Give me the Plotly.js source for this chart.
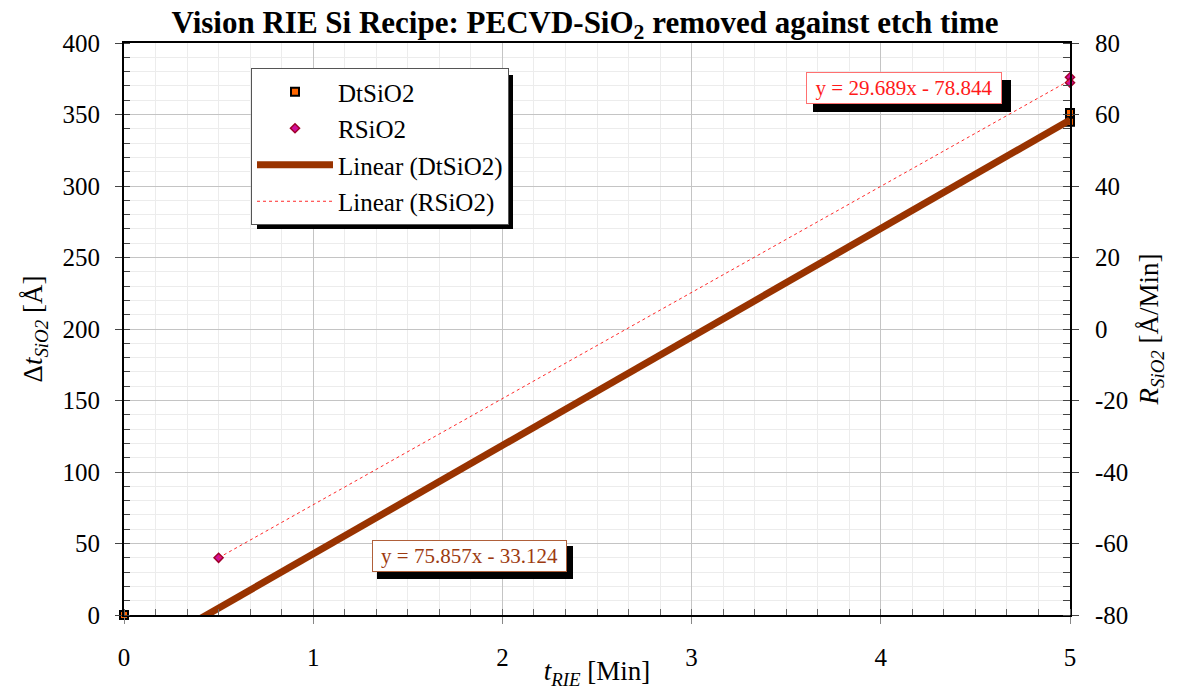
<!DOCTYPE html>
<html>
<head>
<meta charset="utf-8">
<script src="https://cdn.plot.ly/plotly-3.0.1.min.js"></script>
<style>html,body{margin:0;padding:0;background:#fff}#chart{width:1179px;height:690px}</style>
</head>
<body>
<div id="chart"></div>
<script>
// ---- data ----
const dtX = [0, 5, 5];
const dtY = [0, 351, 345];
const rX = [0.5, 5, 5];
const rY = [-64, 70.4, 68.9];
const fitNames = ['Linear (DtSiO2)', 'Linear (RSiO2)'];
const fitSlopes = [75.857, 29.689];
const fitIntercepts = [-33.124, -78.844];
const fitXRange = [[0, 5], [0.5, 5]];
const eqTexts = ['y = 75.857x - 33.124', 'y = 29.689x - 78.844'];
const xTicks = [0, 1, 2, 3, 4, 5];
const yTicks = [0, 50, 100, 150, 200, 250, 300, 350, 400];
const y2Ticks = [-80, -60, -40, -20, 0, 20, 40, 60, 80];
const y2TickText = ['-80', '-60', '-40', '-20', '0', '20', '40', '60', '80'];

// ---- geometry helpers (pixel -> paper) ----
const L = 124, R = 1070, T = 43, B = 615;
const px = x => (x - L) / (R - L);
const py = y => (B - y) / (B - T);

const fitLine = i => {
  const xs = fitXRange[i];
  return {x: xs, y: xs.map(v => fitSlopes[i] * v + fitIntercepts[i])};
};
const f0 = fitLine(0), f1 = fitLine(1);

const font = '"Liberation Serif"';

const traces = [
  {x: dtX, y: dtY, name: 'DtSiO2', mode: 'markers', type: 'scatter', cliponaxis: false,
   legendgroup: 'a',
   marker: {symbol: 'square', size: 8, color: '#ff6600', line: {color: '#000', width: 2}}},
  {x: rX, y: rY, name: 'RSiO2', mode: 'markers', type: 'scatter', yaxis: 'y2', cliponaxis: false,
   legendgroup: 'b',
   marker: {symbol: 'diamond', size: 7, color: '#d0109a', line: {color: '#a0002a', width: 1.5}}},
  {x: f0.x, y: f0.y, name: fitNames[0], mode: 'lines', type: 'scatter', legendgroup: 'c',
   line: {color: '#993300', width: 7}},
  {x: f1.x, y: f1.y, name: fitNames[1], mode: 'lines', type: 'scatter', yaxis: 'y2', legendgroup: 'd',
   line: {color: '#ff2a2a', width: 1, dash: 'dot'}}
];

const gridMajor = '#c4c4c4', gridMinor = '#ececec';

const layout = {
  width: 1179, height: 690,
  margin: {l: L, r: 1179 - R, t: T, b: 690 - B},
  paper_bgcolor: '#fff', plot_bgcolor: '#fff',
  font: {family: font, size: 25, color: '#000'},
  title: {text: '<b>Vision RIE Si Recipe: PECVD-SiO<sub>2</sub> removed against etch time</b>',
          font: {family: font, size: 31, color: '#000'},
          x: 585 / 1179, xref: 'container', xanchor: 'center', y: 1 - 22 / 690, yref: 'container', yanchor: 'middle'},
  xaxis: {range: [0, 5], tickvals: xTicks, ticktext: xTicks.map(String), showgrid: true, gridcolor: gridMajor, gridwidth: 1,
          showline: true, linecolor: '#000', linewidth: 2, mirror: true, zeroline: false,
          ticks: 'outside', ticklen: 7, tickcolor: '#888', ticklabelstandoff: 12,
          tickfont: {family: font, size: 25, color: '#000'},
          minor: {dtick: 1 / 6, tick0: 0, showgrid: true, gridcolor: gridMinor, ticks: 'inside', ticklen: 6, tickcolor: '#666'},
          title: {text: '<i>t</i><sub><i>RIE</i></sub> [Min]', font: {family: font, size: 27, color: '#000'}, standoff: 10}},
  yaxis: {range: [0, 400], tickvals: yTicks, ticktext: yTicks.map(String), showgrid: true, gridcolor: gridMajor, gridwidth: 1,
          showline: true, linecolor: '#000', linewidth: 2, zeroline: false,
          ticks: 'outside', ticklen: 7, tickcolor: '#444', ticklabelstandoff: 10,
          tickfont: {family: font, size: 25, color: '#000'},
          minor: {dtick: 10, tick0: 0, showgrid: true, gridcolor: gridMinor, ticks: 'inside', ticklen: 6, tickcolor: '#444'},
          title: {text: 'Δ<i>t</i><sub><i>SiO2</i></sub> [Å]', font: {family: font, size: 27, color: '#000'}, standoff: 12}},
  yaxis2: {range: [-80, 80], tickvals: y2Ticks, ticktext: y2TickText, overlaying: 'y', side: 'right', showgrid: false,
           showline: true, linecolor: '#000', linewidth: 2, zeroline: false,
           ticks: 'outside', ticklen: 7, tickcolor: '#444', ticklabelstandoff: 11,
           tickfont: {family: font, size: 25, color: '#000'},
           minor: {dtick: 4, tick0: -80, showgrid: false, ticks: 'inside', ticklen: 7, tickcolor: '#444'},
           title: {text: '<i>R</i><sub><i>SiO2</i></sub> [Å/Min]', font: {family: font, size: 27, color: '#000'}, standoff: 12}},
  legend: {x: px(251), y: py(68), xanchor: 'left', yanchor: 'top',
           bgcolor: '#fff', bordercolor: '#555', borderwidth: 1,
           font: {family: font, size: 25, color: '#000'}, itemwidth: 76, traceorder: 'grouped', tracegroupgap: 1},
  showlegend: true,
  shapes: [
    {type: 'rect', xref: 'paper', yref: 'paper', x0: px(257), x1: px(513), y0: py(75), y1: py(229),
     fillcolor: '#000', line: {width: 0}},
    {type: 'rect', xref: 'paper', yref: 'paper', x0: px(377), x1: px(573), y0: py(546), y1: py(579),
     fillcolor: '#000', line: {width: 0}},
    {type: 'rect', xref: 'paper', yref: 'paper', x0: px(813), x1: px(1011), y0: py(80), y1: py(112),
     fillcolor: '#000', line: {width: 0}}
  ],
  annotations: [
    {xref: 'paper', yref: 'paper', x: px(469), y: py(555.5), xanchor: 'center', yanchor: 'middle',
     text: eqTexts[0], showarrow: false, bgcolor: '#fff', bordercolor: '#b0603a', borderwidth: 1,
     borderpad: 0, width: 193, height: 30, font: {family: font, size: 21, color: '#9c3a10'}},
    {xref: 'paper', yref: 'paper', x: px(904), y: py(88.3), xanchor: 'center', yanchor: 'middle',
     text: eqTexts[1], showarrow: false, bgcolor: '#fff', bordercolor: '#ff7070', borderwidth: 1,
     borderpad: 0, width: 194, height: 30, font: {family: font, size: 21, color: '#ff1a1a'}}
  ]
};

Plotly.newPlot('chart', traces, layout, {displayModeBar: false, responsive: false});
</script>
</body>
</html>
